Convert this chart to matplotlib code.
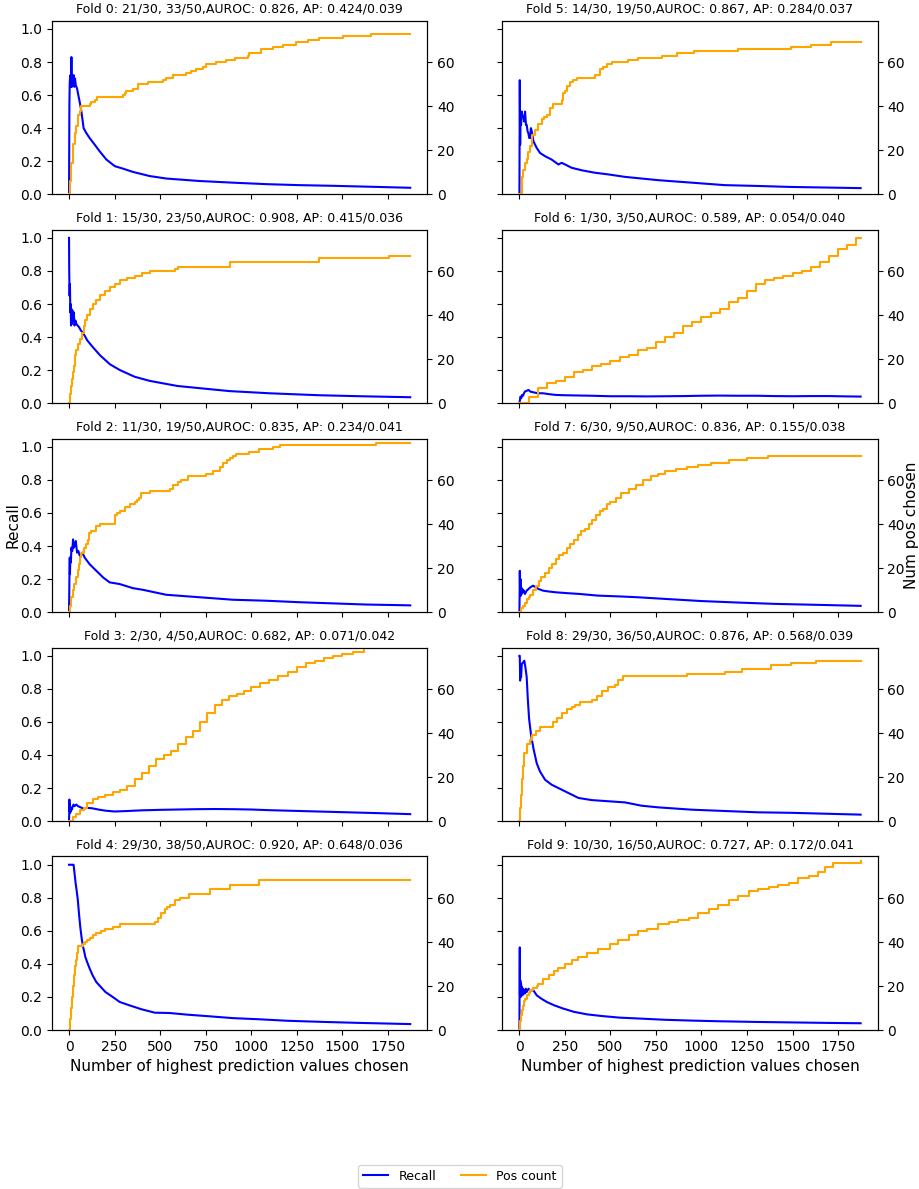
import numpy as np
import matplotlib
matplotlib.use('Agg')
import matplotlib.pyplot as plt

titles = [
    'Fold 0: 21/30, 33/50,AUROC: 0.826, AP: 0.424/0.039',
    'Fold 1: 15/30, 23/50,AUROC: 0.908, AP: 0.415/0.036',
    'Fold 2: 11/30, 19/50,AUROC: 0.835, AP: 0.234/0.041',
    'Fold 3: 2/30, 4/50,AUROC: 0.682, AP: 0.071/0.042',
    'Fold 4: 29/30, 38/50,AUROC: 0.920, AP: 0.648/0.036',
    'Fold 5: 14/30, 19/50,AUROC: 0.867, AP: 0.284/0.037',
    'Fold 6: 1/30, 3/50,AUROC: 0.589, AP: 0.054/0.040',
    'Fold 7: 6/30, 9/50,AUROC: 0.836, AP: 0.155/0.038',
    'Fold 8: 29/30, 36/50,AUROC: 0.876, AP: 0.568/0.039',
    'Fold 9: 10/30, 16/50,AUROC: 0.727, AP: 0.172/0.041',
]

# fold 0
k0_rec = [0, 2, 4, 7, 10, 13, 16, 18, 22, 26, 29, 33, 37, 44, 51, 60, 68, 80, 95, 113,
          141, 168, 205, 251, 296, 351, 443, 534, 717, 900, 1083, 1266, 1448, 1631, 1874]
v0_rec = [0, 0.55, 0.68, 0.72, 0.65, 0.83, 0.65, 0.72, 0.66, 0.72, 0.65, 0.7, 0.66, 0.64, 0.6, 0.55, 0.5, 0.4, 0.37, 0.34,
          0.30, 0.26, 0.21, 0.17, 0.155, 0.135, 0.11, 0.095, 0.08, 0.07, 0.061, 0.055, 0.051, 0.046, 0.039]
k0_pos = [0, 5, 13, 22, 30, 37, 49, 60, 68, 115, 123, 141, 155, 296, 305, 311, 351, 379, 433, 516,
          534, 571, 644, 671, 699, 735, 753, 808, 863, 909, 982, 991, 1055, 1119, 1174, 1247, 1311, 1375, 1503, 1659, 1874]
c0_pos = [0, 6, 14, 23, 28, 31, 36, 38, 40, 41, 42, 43, 44, 45, 46, 47, 48, 50, 51, 52,
          53, 54, 55, 56, 57, 58, 59, 60, 61, 62, 63, 64, 66, 67, 68, 69, 70, 71, 72, 73, 73]

# fold 1
k1_rec = [0, 1, 3, 5, 7, 9, 11, 13, 16, 19, 22, 26, 30, 35, 40, 47, 55, 65, 80, 100,
          130, 170, 225, 280, 360, 443, 596, 882, 1100, 1375, 1600, 1874]
v1_rec = [1.0, 0.8, 0.65, 0.72, 0.55, 0.6, 0.47, 0.57, 0.48, 0.56, 0.5, 0.55, 0.47, 0.5, 0.48, 0.47, 0.46, 0.44, 0.42, 0.38,
          0.34, 0.29, 0.235, 0.2, 0.16, 0.135, 0.104, 0.073, 0.06, 0.048, 0.042, 0.036]
k1_pos = [0, 5, 10, 15, 20, 25, 30, 35, 40, 50, 60, 70, 80, 90, 100, 115, 130, 150, 170, 200,
          225, 250, 280, 320, 360, 400, 443, 580, 596, 882, 1375, 1759, 1874]
c1_pos = [0, 4, 8, 11, 14, 17, 20, 22, 24, 27, 29, 32, 35, 38, 40, 43, 45, 47, 49, 51,
          53, 54, 56, 57, 58, 59, 60, 61, 62, 64, 66, 67, 67]

# fold 2
k2_rec = [0, 2, 4, 5, 7, 10, 13, 16, 18, 22, 26, 31, 37, 44, 51, 59, 73, 86, 113, 150,
          187, 223, 278, 351, 406, 534, 717, 900, 1083, 1266, 1448, 1631, 1874]
v2_rec = [0, 0.2, 0.33, 0.23, 0.33, 0.3, 0.39, 0.37, 0.37, 0.44, 0.39, 0.4, 0.43, 0.36, 0.37, 0.34, 0.36, 0.33, 0.29, 0.25,
          0.21, 0.18, 0.17, 0.145, 0.135, 0.105, 0.09, 0.075, 0.069, 0.06, 0.053, 0.046, 0.041]
k2_pos = [0, 6, 13, 20, 26, 40, 48, 55, 62, 68, 80, 95, 103, 110, 123, 150, 168, 251, 265, 278,
          305, 333, 360, 373, 385, 397, 443, 552, 571, 600, 617, 653, 753, 790, 827, 845, 865, 882, 900, 918,
          991, 1046, 1119, 1156, 1686, 1874]
c2_pos = [0, 3, 7, 10, 13, 16, 19, 22, 25, 27, 29, 31, 33, 36, 37, 39, 40, 44, 45, 46,
          48, 49, 50, 51, 52, 54, 55, 56, 58, 59, 60, 62, 63, 64, 66, 68, 69, 70, 71, 72,
          73, 74, 75, 76, 77, 77]

# fold 3
k3_rec = [0, 1, 2, 3, 4, 6, 8, 10, 13, 16, 20, 25, 30, 40, 50, 60, 80, 100, 130, 160,
          200, 250, 300, 400, 500, 600, 700, 800, 900, 1000, 1100, 1200, 1300, 1400, 1500, 1600, 1700, 1874]
v3_rec = [0, 0.05, 0.13, 0.06, 0.1, 0.05, 0.08, 0.06, 0.08, 0.07, 0.09, 0.1, 0.09, 0.1, 0.09, 0.085, 0.075, 0.08, 0.077, 0.07,
          0.063, 0.058, 0.06, 0.065, 0.068, 0.07, 0.072, 0.073, 0.072, 0.07, 0.066, 0.063, 0.06, 0.057, 0.054, 0.051, 0.048, 0.042]
k3_pos = [0, 20, 40, 60, 80, 100, 130, 160, 200, 240, 280, 320, 360, 400, 440, 480, 520, 560, 600, 640,
          680, 720, 760, 800, 840, 880, 920, 960, 1000, 1050, 1100, 1150, 1200, 1250, 1300, 1350, 1400, 1450, 1500, 1560,
          1620, 1874]
c3_pos = [0, 2, 3, 5, 6, 8, 10, 11, 12, 13, 14, 16, 19, 22, 25, 28, 30, 32, 35, 38,
          41, 45, 49, 53, 55, 57, 58, 59, 61, 63, 64, 66, 68, 70, 72, 73, 74, 75, 76, 77,
          79, 79]

# fold 4
k4_rec = [0, 5, 10, 15, 20, 25, 31, 36, 41, 48, 55, 62, 70, 76, 90, 100, 114, 130, 150, 175,
          200, 240, 278, 330, 400, 471, 552, 650, 772, 900, 1046, 1200, 1400, 1600, 1874]
v4_rec = [1.0, 1.0, 1.0, 1.0, 1.0, 1.0, 0.94, 0.89, 0.85, 0.79, 0.7, 0.62, 0.55, 0.51, 0.44, 0.41, 0.37, 0.33, 0.29, 0.26,
          0.23, 0.2, 0.17, 0.15, 0.125, 0.105, 0.103, 0.093, 0.083, 0.072, 0.065, 0.056, 0.049, 0.043, 0.036]
k4_pos = [0, 5, 10, 15, 20, 25, 31, 36, 41, 48, 76, 90, 100, 114, 130, 150, 175, 200, 240, 278,
          471, 490, 505, 525, 540, 552, 580, 607, 660, 772, 882, 1046, 1874]
c4_pos = [0, 5, 10, 15, 20, 25, 29, 32, 35, 38, 39, 40, 41, 42, 43, 44, 45, 46, 47, 48,
          49, 51, 53, 55, 56, 57, 59, 60, 62, 64, 66, 68, 68]

# fold 5
k5_rec = [0, 2, 4, 6, 9, 13, 17, 22, 26, 31, 36, 40, 45, 49, 54, 59, 63, 68, 77, 95,
          113, 141, 177, 214, 232, 251, 287, 342, 415, 488, 580, 763, 946, 1128, 1311, 1494, 1874]
v5_rec = [0, 0.69, 0.3, 0.5, 0.42, 0.5, 0.47, 0.47, 0.44, 0.5, 0.42, 0.42, 0.38, 0.37, 0.34, 0.34, 0.4, 0.38, 0.32, 0.28,
          0.25, 0.23, 0.21, 0.18, 0.19, 0.18, 0.16, 0.145, 0.13, 0.12, 0.105, 0.085, 0.07, 0.055, 0.05, 0.044, 0.037]
k5_pos = [0, 13, 22, 31, 40, 49, 59, 68, 86, 104, 123, 137, 150, 168, 187, 232, 241, 250, 260, 278,
          296, 314, 415, 443, 461, 479, 506, 598, 653, 781, 868, 960, 1198, 1494, 1600, 1713, 1874]
c5_pos = [0, 8, 11, 14, 16, 19, 22, 27, 29, 32, 34, 35, 36, 39, 41, 43, 46, 47, 49, 51,
          52, 53, 54, 57, 58, 59, 60, 61, 62, 63, 64, 65, 66, 67, 68, 69, 69]

# fold 6
k6_rec = [0, 3, 6, 10, 15, 20, 25, 30, 40, 50, 60, 80, 100, 130, 160, 200, 250, 300, 400, 500,
          600, 700, 800, 900, 1000, 1100, 1200, 1300, 1400, 1500, 1600, 1700, 1800, 1874]
v6_rec = [0, 0.02, 0.04, 0.03, 0.05, 0.045, 0.06, 0.07, 0.075, 0.08, 0.07, 0.065, 0.06, 0.06, 0.055, 0.05, 0.048, 0.047, 0.045, 0.042,
          0.042, 0.041, 0.042, 0.043, 0.045, 0.046, 0.045, 0.045, 0.043, 0.042, 0.043, 0.043, 0.041, 0.04]
k6_pos = [0, 50, 100, 150, 200, 250, 300, 350, 400, 450, 500, 550, 600, 650, 700, 750, 800, 850, 900, 950,
          1000, 1050, 1100, 1150, 1200, 1250, 1300, 1350, 1400, 1450, 1500, 1550, 1600, 1650, 1700, 1750, 1800, 1850, 1874]
c6_pos = [0, 3, 7, 9, 10, 12, 14, 15, 17, 18, 19, 21, 22, 24, 25, 28, 30, 32, 35, 37,
          39, 41, 43, 46, 48, 51, 54, 56, 57, 58, 59, 60, 62, 64, 67, 70, 72, 75, 75]

# fold 7
k7_rec = [0, 1, 2, 4, 6, 8, 10, 13, 16, 20, 25, 30, 40, 50, 60, 75, 90, 105, 130, 160,
          200, 260, 330, 430, 550, 650, 800, 1000, 1200, 1400, 1600, 1874]
v7_rec = [0, 0.1, 0.25, 0.12, 0.2, 0.1, 0.15, 0.11, 0.14, 0.12, 0.13, 0.11, 0.13, 0.14, 0.15, 0.16, 0.15, 0.14, 0.13, 0.125,
          0.12, 0.115, 0.11, 0.1, 0.095, 0.09, 0.08, 0.067, 0.058, 0.05, 0.045, 0.038]
k7_pos = [0, 10, 20, 30, 40, 50, 60, 75, 90, 105, 120, 140, 160, 180, 200, 220, 240, 260, 280, 300,
          320, 340, 360, 380, 400, 420, 440, 460, 480, 500, 530, 560, 600, 640, 680, 720, 760, 800, 860, 920,
          980, 1050, 1150, 1250, 1366, 1874]
c7_pos = [0, 2, 3, 4, 6, 7, 8, 10, 12, 14, 16, 18, 20, 22, 24, 26, 27, 29, 31, 33,
          35, 37, 38, 40, 42, 44, 46, 47, 49, 50, 52, 54, 56, 58, 60, 62, 63, 64, 65, 66,
          67, 68, 69, 70, 71, 71]

# fold 8
k8_rec = [0, 2, 4, 6, 9, 13, 20, 27, 33, 40, 46, 53, 64, 77, 95, 113, 141, 177, 214, 269,
          324, 397, 488, 580, 671, 763, 946, 1128, 1311, 1494, 1874]
v8_rec = [1.0, 1.0, 0.85, 0.92, 0.87, 0.95, 0.96, 0.97, 0.93, 0.87, 0.74, 0.62, 0.52, 0.44, 0.35, 0.3, 0.25, 0.22, 0.2, 0.17,
          0.14, 0.127, 0.12, 0.113, 0.093, 0.083, 0.069, 0.061, 0.053, 0.05, 0.039]
k8_pos = [0, 5, 10, 16, 22, 27, 40, 59, 71, 90, 113, 187, 205, 232, 260, 287, 305, 333, 397, 424,
          452, 488, 525, 543, 570, 918, 1128, 1220, 1384, 1494, 1631, 1874]
c8_pos = [0, 6, 12, 19, 25, 31, 35, 37, 39, 41, 43, 45, 47, 49, 51, 52, 53, 54, 55, 57,
          59, 61, 62, 64, 66, 67, 68, 69, 71, 72, 73, 73]

# fold 9
k9_rec = [0, 1, 2, 3, 5, 7, 9, 11, 14, 17, 20, 25, 30, 35, 40, 50, 60, 77, 95, 120,
          150, 190, 240, 300, 370, 450, 550, 650, 800, 950, 1100, 1300, 1500, 1700, 1874]
v9_rec = [0, 0.3, 0.5, 0.22, 0.3, 0.2, 0.28, 0.22, 0.26, 0.21, 0.25, 0.24, 0.22, 0.25, 0.23, 0.25, 0.24, 0.24, 0.21, 0.19,
          0.17, 0.15, 0.13, 0.11, 0.095, 0.085, 0.075, 0.07, 0.062, 0.057, 0.053, 0.049, 0.046, 0.043, 0.041]
k9_pos = [0, 5, 10, 15, 20, 25, 30, 40, 50, 60, 77, 95, 104, 130, 160, 190, 214, 250, 290, 324,
          370, 433, 500, 543, 600, 653, 700, 763, 820, 872, 930, 982, 1040, 1092, 1150, 1201, 1260, 1311, 1370, 1421,
          1480, 1531, 1590, 1640, 1680, 1723, 1874]
c9_pos = [0, 4, 7, 9, 11, 13, 14, 16, 17, 18, 19, 20, 21, 23, 25, 27, 28, 30, 32, 33,
          35, 37, 39, 41, 43, 45, 46, 48, 49, 50, 51, 53, 55, 57, 59, 61, 63, 64, 65, 66,
          67, 69, 70, 72, 74, 76, 77]

rec_k = [k0_rec, k1_rec, k2_rec, k3_rec, k4_rec, k5_rec, k6_rec, k7_rec, k8_rec, k9_rec]
rec_v = [v0_rec, v1_rec, v2_rec, v3_rec, v4_rec, v5_rec, v6_rec, v7_rec, v8_rec, v9_rec]
pos_k = [k0_pos, k1_pos, k2_pos, k3_pos, k4_pos, k5_pos, k6_pos, k7_pos, k8_pos, k9_pos]
pos_c = [c0_pos, c1_pos, c2_pos, c3_pos, c4_pos, c5_pos, c6_pos, c7_pos, c8_pos, c9_pos]

fig, axes = plt.subplots(5, 2, figsize=(9.2, 11.89), dpi=100, sharex=True, sharey=True)
fig.subplots_adjust(left=0.0565, right=0.954, top=0.9826, bottom=0.1337, wspace=0.2, hspace=0.204)

for i in range(10):
    ax = axes[i % 5, i // 5]
    ax2 = ax.twinx()
    l1, = ax.plot(rec_k[i], rec_v[i], color='blue', label='Recall')
    l2, = ax2.plot(pos_k[i], pos_c[i], color='orange', drawstyle='steps-post', label='Pos count')
    ax2.set_ylim(0, 78.9)
    ax.set_title(titles[i], fontsize=9)
    if i == 7:
        ax2.set_ylabel('Num pos chosen', fontsize=11)
        ax2.yaxis.set_label_coords(1.069, 0.5)

axes[0, 0].set_ylim(0, 1.05)
axes[0, 0].set_xticks(np.arange(0, 1751, 250))
axes[2, 0].set_ylabel('Recall', fontsize=11)
axes[2, 0].yaxis.set_label_coords(-0.083, 0.5)
axes[4, 0].set_xlabel('Number of highest prediction values chosen', fontsize=11)
axes[4, 1].set_xlabel('Number of highest prediction values chosen', fontsize=11)

fig.legend([l1, l2], ['Recall', 'Pos count'], loc='lower center', ncol=2,
           bbox_to_anchor=(0.5, 0.0), borderaxespad=0.1, fontsize=9)

fig.savefig('out.png', dpi=100)
